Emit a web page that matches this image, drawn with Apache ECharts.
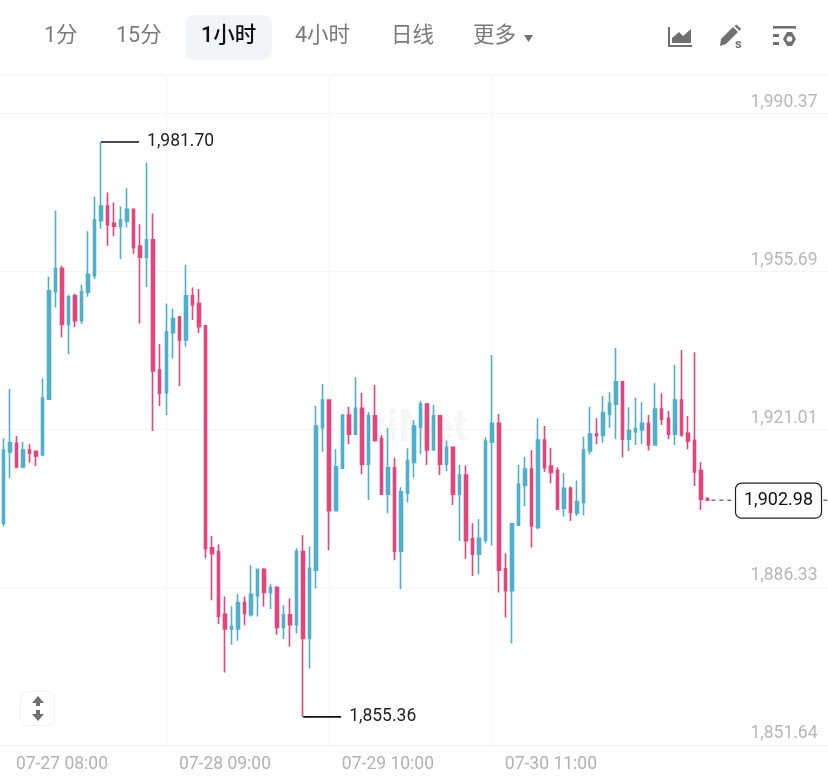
<!DOCTYPE html>
<html>
<head>
<meta charset="utf-8">
<style>html,body{margin:0;padding:0;background:#fff}#chart{width:828px;height:778px}</style>
<script src="https://cdn.jsdelivr.net/npm/echarts@6/dist/echarts.min.js"></script>
</head>
<body>
<div id="chart"></div>
<script>
// Hourly candles as [open, close, low, high]
const candles = [
[1897.9,1914.0,1897.2,1916.6],[1913.6,1915.6,1907.8,1927.4],[1915.5,1910.3,1910.0,1917.1],[1910.3,1914.0,1910.0,1915.8],
[1914.0,1913.3,1911.2,1915.3],[1913.7,1912.7,1910.5,1913.7],[1912.9,1925.4,1912.9,1929.8],[1925.2,1949.0,1925.2,1952.1],
[1948.8,1953.9,1945.3,1966.6],[1953.9,1941.6,1938.8,1954.5],[1941.6,1947.7,1935.1,1948.1],[1947.9,1942.4,1941.0,1948.4],
[1942.4,1948.8,1941.7,1950.3],[1948.7,1952.6,1947.7,1962.1],[1952.3,1964.6,1951.6,1969.7],[1964.4,1967.6,1962.6,1981.7],
[1967.6,1963.5,1958.9,1970.6],[1963.8,1963.2,1961.0,1968.4],[1963.2,1964.6,1956.0,1967.5],[1964.3,1966.9,1962.9,1971.5],
[1966.9,1958.5,1957.1,1966.9],[1958.8,1956.4,1941.8,1963.6],[1956.4,1960.2,1949.8,1977.2],[1960.2,1931.4,1918.2,1966.0],
[1931.6,1926.5,1923.7,1937.3],[1926.6,1940.0,1921.7,1946.2],[1939.8,1942.9,1934.1,1945.1],[1943.2,1938.2,1928.1,1943.5],
[1938.2,1947.9,1936.7,1954.7],[1947.9,1945.9,1942.6,1949.7],[1946.2,1941.1,1939.7,1949.4],[1941.3,1892.3,1890.2,1941.3],
[1892.5,1891.2,1881.0,1895.1],[1891.7,1877.5,1875.8,1893.3],[1877.9,1874.7,1865.1,1881.8],[1874.7,1875.2,1871.2,1879.7],
[1874.7,1880.5,1872.1,1882.4],[1880.5,1878.1,1875.5,1881.8],[1877.8,1882.3,1877.4,1888.7],[1882.0,1887.8,1877.4,1887.8],
[1887.8,1882.7,1879.6,1888.0],[1882.7,1883.8,1879.1,1884.6],[1883.8,1875.0,1873.4,1884.1],[1875.0,1877.8,1872.5,1879.9],
[1877.8,1875.6,1870.8,1881.4],[1875.6,1891.7,1873.7,1892.4],[1891.7,1872.6,1855.36,1895.3],[1872.6,1888.0,1866.0,1892.8],
[1887.6,1919.3,1883.6,1923.7],[1918.9,1925.0,1913.6,1928.5],[1925.0,1900.7,1892.0,1925.0],[1900.7,1910.3,1900.7,1914.2],
[1910.0,1921.7,1910.0,1921.7],[1921.7,1917.5,1915.3,1923.5],[1917.5,1923.2,1917.3,1930.0],[1923.2,1910.9,1908.7,1926.6],
[1910.9,1921.5,1903.0,1922.3],[1921.5,1916.1,1915.8,1928.3],[1916.5,1904.3,1904.1,1917.3],[1904.3,1910.1,1900.1,1918.9],
[1910.1,1891.8,1889.8,1912.3],[1891.8,1904.8,1883.4,1905.8],[1904.5,1911.7,1902.5,1914.4],[1911.3,1919.3,1907.9,1920.6],
[1919.0,1924.1,1913.1,1924.8],[1924.1,1914.0,1910.7,1924.4],[1914.0,1921.5,1914.0,1923.9],[1921.5,1910.9,1908.5,1921.5],
[1910.9,1914.6,1909.4,1916.1],[1914.6,1904.3,1901.9,1914.6],[1904.3,1908.5,1894.0,1910.7],[1908.5,1894.1,1890.1,1910.6],
[1894.5,1891.1,1886.3,1897.9],[1891.1,1894.6,1886.7,1898.8],[1894.2,1916.0,1893.5,1916.8],[1915.7,1919.9,1893.0,1934.9],
[1919.9,1887.6,1882.7,1921.9],[1887.9,1883.1,1877.2,1891.3],[1883.1,1897.8,1871.5,1897.8],[1897.5,1906.5,1897.5,1910.7],
[1906.2,1909.8,1901.7,1912.5],[1909.8,1897.3,1892.6,1914.0],[1897.0,1916.2,1896.6,1921.0],[1916.2,1910.1,1909.2,1919.3],
[1910.5,1909.1,1906.7,1914.5],[1909.5,1901.0,1900.8,1910.2],[1901.2,1905.6,1899.4,1908.9],[1905.6,1900.3,1898.4,1906.0],
[1900.1,1902.7,1899.5,1907.3],[1902.5,1914.0,1899.7,1916.9],[1913.8,1917.5,1913.1,1923.5],[1917.5,1917.2,1915.3,1921.0],
[1917.2,1922.2,1915.6,1925.9],[1921.9,1924.3,1918.9,1926.7],[1924.1,1929.0,1916.4,1936.4],[1929.0,1916.4,1912.4,1929.2],
[1916.4,1918.3,1913.8,1923.4],[1918.0,1918.7,1915.1,1925.5],[1918.4,1919.9,1915.3,1924.5],[1919.9,1915.1,1913.9,1921.7],
[1915.1,1923.0,1915.1,1928.7],[1923.0,1920.8,1919.5,1926.5],[1921.0,1917.5,1916.4,1922.6],[1917.5,1925.0,1915.1,1932.7],
[1925.0,1917.3,1916.9,1936.0],[1917.7,1916.0,1914.2,1921.5],[1916.1,1909.2,1906.1,1935.5],[1909.5,1903.2,1900.8,1911.3],
[1903.4,1902.98,1902.98,1903.4]
];
const priceLabels = [1990.37, 1955.69, 1921.01, 1886.33, 1851.64];
const timeLabels = ['07-27 08:00', '07-28 09:00', '07-29 10:00', '07-30 11:00'];
const gridPrices = [1988.06, 1953.34, 1918.62, 1883.91];
const gridCandles = [25, 50, 75];
const extremes = [[15, 1981.70], [46, 1855.36]];
const lastPrice = [[108, 1902.98]];
const tabs = ['1分', '15分', '1小时', '4小时', '日线', '更多'];
const tabLefts = [44, 116, 201, 295, 391, 473];
const activeTab = 2;

// One category per hour; the free slots after the last candle keep the right-hand margin.
const SLOT_COUNT = 127;
const pad = n => String(n).padStart(2, '0');
const categories = [];
for (let i = 0; i < SLOT_COUNT; i++) {
  const d = new Date(Date.UTC(2023, 6, 26, 23 + i));
  categories.push(pad(d.getUTCMonth() + 1) + '-' + pad(d.getUTCDate()) + ' ' + pad(d.getUTCHours()) + ':00');
}

const UP = '#4fb0cc', DOWN = '#e5457c', ICON = '#707070';
const SANS = 'Roboto, "Noto Sans CJK SC", sans-serif';
const money = v => v.toLocaleString('en-US', {minimumFractionDigits: 2, maximumFractionDigits: 2});

function renderExtreme(params, api) {
  const p = api.coord([api.value(0), api.value(1)]);
  return {type: 'group', children: [
    {type: 'line', shape: {x1: p[0], y1: p[1], x2: p[0] + 38, y2: p[1]},
     style: {stroke: '#111', lineWidth: 1.6}},
    {type: 'text', style: {x: p[0] + 46, y: p[1], text: money(api.value(1)), fill: '#222',
      font: '17.5px ' + SANS, textVerticalAlign: 'middle'}}
  ]};
}

function renderLastPrice(params, api) {
  const p = api.coord([api.value(0), api.value(1)]);
  return {type: 'group', children: [
    {type: 'line', shape: {x1: p[0] + 4, y1: p[1], x2: 828, y2: p[1]},
     style: {stroke: '#333', lineWidth: 1, lineDash: [4, 4]}},
    {type: 'rect', shape: {x: 735.5, y: p[1] - 17, width: 86, height: 35, r: 6},
     style: {fill: '#fff', stroke: '#222', lineWidth: 1.2}},
    {type: 'text', style: {x: 778.5, y: p[1] + 0.5, text: money(api.value(1)), fill: '#111',
      font: '18px ' + SANS, textAlign: 'center', textVerticalAlign: 'middle'}}
  ]};
}

// Toolbar, separator and the scale handle
const chrome = [
  {type: 'line', shape: {x1: 0, y1: 75, x2: 828, y2: 75}, style: {stroke: '#efefef', lineWidth: 1}},
  {type: 'rect', shape: {x: 185, y: 15, width: 87, height: 45, r: 9}, style: {fill: '#f2f5f7'}},
  {type: 'polygon', shape: {points: [[524, 35], [533, 35], [528.5, 42]]}, style: {fill: ICON}},
  // area-chart icon
  {type: 'polygon', shape: {points: [[668, 27], [670, 27], [670, 45], [692, 45], [692, 47], [668, 47]]}, style: {fill: ICON}},
  {type: 'polygon', shape: {points: [[672, 43], [672, 38], [679, 32], [683, 36], [691, 29], [691, 43]]}, style: {fill: ICON}},
  // pencil icon with its small s
  {type: 'polygon', shape: {points: [[721, 39], [733, 27], [738, 32], [726, 44], [720, 46]]}, style: {fill: ICON}},
  {type: 'polygon', shape: {points: [[734.5, 26], [736.5, 24.5], [741, 29], [739.5, 31]]}, style: {fill: ICON}},
  {type: 'text', style: {x: 735, y: 38, text: 's', fill: ICON, font: 'bold 13px ' + SANS}},
  // settings-style icon
  {type: 'rect', shape: {x: 773, y: 26, width: 23, height: 2.6}, style: {fill: ICON}},
  {type: 'rect', shape: {x: 773, y: 34, width: 6, height: 3}, style: {fill: ICON}},
  {type: 'rect', shape: {x: 773, y: 42, width: 6, height: 3}, style: {fill: ICON}},
  {type: 'polygon', shape: {points: [[783, 39], [787, 32], [792, 32], [796, 39], [792, 46], [787, 46]]}, style: {fill: ICON}},
  {type: 'circle', shape: {cx: 789.5, cy: 39, r: 2.8}, style: {fill: '#fff'}},
  // scale handle
  {type: 'rect', shape: {x: 20.5, y: 691.5, width: 34, height: 34, r: 7}, style: {fill: '#fff', stroke: '#f1f1f1', lineWidth: 1}},
  {type: 'polygon', shape: {points: [[38, 696], [44, 703], [40, 703], [40, 706], [36, 706], [36, 703], [32, 703]]}, style: {fill: ICON}},
  {type: 'polygon', shape: {points: [[38, 721], [44, 714], [40, 714], [40, 710], [36, 710], [36, 714], [32, 714]]}, style: {fill: ICON}},
  // watermark
  {type: 'text', z: -1, style: {x: 340, y: 408, text: 'FxiNet', fill: '#f7f7f7', font: 'bold 44px ' + SANS}}
];
tabs.forEach((label, i) => chrome.push({type: 'text', style: {
  x: tabLefts[i], y: 37, text: label, fill: i === activeTab ? '#111' : '#7a7a7a',
  font: (i === activeTab ? '500 ' : '') + '21.5px ' + SANS, textVerticalAlign: 'middle'
}}));

const chart = echarts.init(document.getElementById('chart'), null, {renderer: 'canvas'});
chart.setOption({
  animation: false,
  backgroundColor: '#fff',
  grid: {left: 0, top: 76, width: 6.54 * SLOT_COUNT, height: 669},
  xAxis: {
    type: 'category', data: categories, boundaryGap: true,
    axisLine: {show: true, lineStyle: {color: '#f1f1f1'}},
    axisTick: {show: false}, splitLine: {show: false},
    axisLabel: {
      interval: (index, value) => timeLabels.includes(value),
      color: '#b2b2b2', fontSize: 17.5, fontFamily: SANS, margin: 11
    }
  },
  yAxis: {
    type: 'value', position: 'right', min: 1849.19, max: 1996.19, scale: true,
    axisLine: {show: false}, axisTick: {show: false}, splitLine: {show: false},
    axisLabel: {
      inside: true, margin: 10.5, customValues: priceLabels,
      color: '#b7b7b7', fontSize: 17.5, fontFamily: SANS, formatter: money
    }
  },
  graphic: chrome,
  series: [
    {
      type: 'candlestick', data: candles, barWidth: 3, z: 3,
      itemStyle: {color: UP, color0: DOWN, borderColor: UP, borderColor0: DOWN, borderWidth: 1.6},
      markLine: {
        silent: true, symbol: 'none', z: 0, animation: false,
        label: {show: false},
        lineStyle: {color: '#f5f5f5', width: 1, type: 'solid'},
        data: gridPrices.map(v => ({yAxis: v})).concat(gridCandles.map(i => ({xAxis: i})))
      }
    },
    {type: 'custom', data: extremes, renderItem: renderExtreme, encode: {x: 0, y: 1}, clip: false, z: 4, silent: true},
    {type: 'custom', data: lastPrice, renderItem: renderLastPrice, encode: {x: 0, y: 1}, clip: false, z: 4, silent: true}
  ]
});
</script>
</body>
</html>
